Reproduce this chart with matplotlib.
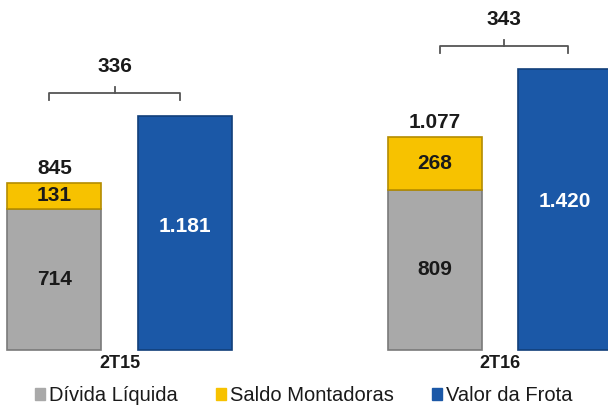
import matplotlib.pyplot as plt
import numpy as np

plt.rcParams['font.family'] = ['Liberation Sans', 'DejaVu Sans']

# data
periodos = ['2T15', '2T16']
divida_liquida = [714, 809]
saldo_montadoras = [131, 268]
valor_frota = [1181, 1420]
total_rotulos = ['845', '1.077']
divida_rotulos = ['714', '809']
saldo_rotulos = ['131', '268']
frota_rotulos = ['1.181', '1.420']
diferenca_rotulos = ['336', '343']

cinza = '#A9A9A9'
amarelo = '#F7C200'
azul = '#1B58A7'

fig = plt.figure(figsize=(6.08, 4.12), dpi=100)
ax = fig.add_axes([0, 0, 1, 1])

x = np.arange(len(periodos))
w = 0.247
off = 0.171

ax.bar(x - off, divida_liquida, w, color=cinza, edgecolor='#7a7a7a', linewidth=1.2)
ax.bar(x - off, saldo_montadoras, w, bottom=divida_liquida, color=amarelo,
       edgecolor='#b48c00', linewidth=1.2)
ax.bar(x + off, valor_frota, w, color=azul, edgecolor='#123f7a', linewidth=1.2)

fs = 15
for i in range(len(periodos)):
    total = divida_liquida[i] + saldo_montadoras[i]
    ax.text(x[i] - off, divida_liquida[i] / 2, divida_rotulos[i], ha='center',
            va='center', fontsize=fs, fontweight='bold', color='#1a1a1a')
    ax.text(x[i] - off, divida_liquida[i] + saldo_montadoras[i] / 2, saldo_rotulos[i],
            ha='center', va='center', fontsize=fs, fontweight='bold', color='#1a1a1a')
    ax.text(x[i] - off, total + 25, total_rotulos[i], ha='center', va='bottom',
            fontsize=fs, fontweight='bold', color='#1a1a1a')
    ax.text(x[i] + off, valor_frota[i] * 0.53, frota_rotulos[i], ha='center',
            va='center', fontsize=fs, fontweight='bold', color='white')
    # chave com a diferenca
    yb = valor_frota[i] + 117
    x0 = x[i] - off - 0.013 + 0.026 * i
    x1 = x[i] + off - 0.013 + 0.02 * i
    xm = (x0 + x1) / 2
    ax.plot([x0, x0, x1, x1], [yb - 35, yb, yb, yb - 35], color='#555555', lw=1.3,
            solid_joinstyle='round')
    ax.plot([xm, xm], [yb, yb + 30], color='#555555', lw=1.3)
    ax.text(xm, yb + 85, diferenca_rotulos[i], ha='center', va='bottom',
            fontsize=fs, fontweight='bold', color='#1a1a1a')
    ax.text(x[i], -68, periodos[i], ha='center', va='center', fontsize=13,
            fontweight='bold', color='#1a1a1a')

# legenda
handles = [plt.Rectangle((0, 0), 1, 1, color=c) for c in (cinza, amarelo, azul)]
ax.legend(handles, ['Dívida Líquida', 'Saldo Montadoras', 'Valor da Frota'],
          loc='center', bbox_to_anchor=(0.5, 0.04), ncol=3, frameon=False,
          fontsize=14.5, handlelength=0.5, handleheight=0.5, handletextpad=0.2,
          columnspacing=1.9, labelcolor='#1a1a1a')

ax.set_xlim(-0.314, 1.284)
ax.set_ylim(-313, 1768)
ax.axis('off')

fig.savefig('out.png', dpi=100)
